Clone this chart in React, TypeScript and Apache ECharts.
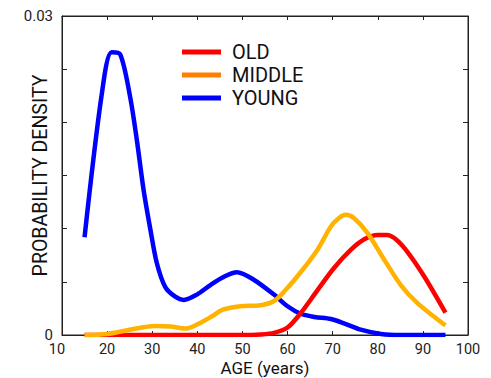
import React, { useEffect, useRef } from "react";
import * as echarts from "echarts";

const X_TICKS = [10, 20, 30, 40, 50, 60, 70, 80, 90, 100];

const SERIES_NAMES = ["OLD", "MIDDLE", "YOUNG"];

const OLD_AGES = [15, 50, 54, 57, 60, 63, 66.6, 70.3, 74, 77, 80, 82, 84, 86.6, 90.3, 95];
const OLD_DENS = [0, 0, 0.00005, 0.0002, 0.0007, 0.0021, 0.0042, 0.0063, 0.008, 0.009, 0.0094, 0.0094, 0.009, 0.0078, 0.0055, 0.0021];

const MIDDLE_AGES = [15, 20, 25, 30.5, 34, 37.5, 40.5, 43, 45.8, 49.6, 54, 57, 59.5, 62.9, 66.6, 69.6, 71.4, 72.9, 74.7, 77.7, 81.4, 85.1, 88.8, 95];
const MIDDLE_DENS = [0, 0.0001, 0.0005, 0.00085, 0.0008, 0.0006, 0.0011, 0.0017, 0.0024, 0.0027, 0.0028, 0.0032, 0.0042, 0.0059, 0.008, 0.0102, 0.011, 0.0113, 0.011, 0.0096, 0.0071, 0.0047, 0.003, 0.0009];

const YOUNG_AGES = [15, 18.8, 21.0, 22.9, 25.1, 26.6, 28.1, 29.6, 31.0, 32.9, 35.1, 37.0, 39.9, 42.9, 46, 48.8, 52.5, 57.0, 60, 62.9, 66, 69.6, 72.5, 76.2, 80.7, 85, 95];
const YOUNG_DENS = [0.0092, 0.0226, 0.0266, 0.0264, 0.0224, 0.0183, 0.0136, 0.0099, 0.0068, 0.0045, 0.0036, 0.0033, 0.0038, 0.0047, 0.0055, 0.0059, 0.0052, 0.0038, 0.0027, 0.002, 0.0017, 0.0015, 0.0011, 0.0005, 0.0001, 0, 0];

const LINE_COLORS = { OLD: "#ff0000", MIDDLE: "#ffb300", YOUNG: "#0000ff" };
const LEGEND_COLORS = { OLD: "#ff0000", MIDDLE: "#ff8000", YOUNG: "#0000ff" };

const FONT = "Roboto, 'Liberation Sans', Arial, sans-serif";

function pairs(xs: number[], ys: number[]) {
  return xs.map((x, i) => [x, ys[i]]);
}

export default function App() {
  const ref = useRef<HTMLDivElement>(null);
  useEffect(() => {
    if (!ref.current) return;
    const chart = echarts.init(ref.current, null, { renderer: "svg" });
    const axisLineStyle = { color: "#222", width: 1 };
    const mk = (name: string, xs: number[], ys: number[]) => ({
      name,
      type: "line",
      data: pairs(xs, ys),
      showSymbol: false,
      symbol: "none",
      smooth: 0.3,
      color: (LINE_COLORS as any)[name],
      lineStyle: { width: 4.5, color: (LINE_COLORS as any)[name] },
    });
    chart.setOption({
      animation: false,
      backgroundColor: "#fff",
      grid: {
        left: 62,
        right: 23,
        top: 16,
        bottom: 43,
        containLabel: false,
        outerBoundsMode: "none",
        show: true,
        borderColor: "#222",
        borderWidth: 1,
        backgroundColor: "transparent",
      },
      legend: {
        orient: "vertical",
        left: 182,
        top: 42,
        padding: 0,
        itemWidth: 39,
        itemHeight: 5,
        itemGap: 3,
        icon: "rect",
        selectedMode: false,
        data: SERIES_NAMES.map((n) => ({ name: n, itemStyle: { color: (LEGEND_COLORS as any)[n] } })),
        textStyle: { fontSize: 20, lineHeight: 18, color: "#111", fontFamily: FONT, padding: [0, 0, 0, 6] },
      },
      xAxis: [
        {
          type: "value",
          min: X_TICKS[0],
          max: X_TICKS[X_TICKS.length - 1],
          interval: 10,
          position: "bottom",
          axisLine: { show: true, onZero: false, lineStyle: axisLineStyle },
          axisTick: { show: true, inside: true, length: 4, lineStyle: axisLineStyle },
          splitLine: { show: false },
          axisLabel: {
            fontSize: 14.5,
            lineHeight: 13,
            color: "#222",
            fontFamily: FONT,
            margin: 7.5,
            formatter: (v: number) => (v === 10 ? "{o|10}" : String(v)),
            rich: { o: { fontSize: 14.5, lineHeight: 13, color: "#222", fontFamily: FONT, padding: [0, 10, 0, 0] } },
          },
          name: "AGE (years)",
          nameLocation: "middle",
          nameGap: 25,
          nameMoveOverlap: false,
          nameTextStyle: { fontSize: 17, lineHeight: 15, color: "#111", fontFamily: FONT },
        },
        {
          type: "value",
          min: 10,
          max: 100,
          interval: 10,
          position: "top",
          axisLine: { show: true, onZero: false, lineStyle: axisLineStyle },
          axisTick: { show: true, inside: true, length: 4, lineStyle: axisLineStyle },
          axisLabel: { show: false },
          splitLine: { show: false },
        },
      ],
      yAxis: [
        {
          type: "value",
          min: 0,
          max: 0.03,
          interval: 0.005,
          position: "left",
          axisLine: { show: true, onZero: false, lineStyle: axisLineStyle },
          axisTick: { show: true, inside: true, length: 5, lineStyle: axisLineStyle },
          splitLine: { show: false },
          axisLabel: {
            fontSize: 15,
            color: "#222",
            fontFamily: FONT,
            margin: 9,
            formatter: (v: number) => (v === 0 ? "0" : Math.abs(v - 0.03) < 1e-9 ? "0.03" : ""),
          },
          name: "PROBABILITY DENSITY",
          nameLocation: "middle",
          nameGap: 12,
          nameMoveOverlap: false,
          nameTextStyle: { fontSize: 19.5, color: "#111", fontFamily: FONT },
        },
        {
          type: "value",
          min: 0,
          max: 0.03,
          interval: 0.005,
          position: "right",
          axisLine: { show: true, onZero: false, lineStyle: axisLineStyle },
          axisTick: { show: true, inside: true, length: 5, lineStyle: axisLineStyle },
          axisLabel: { show: false },
          splitLine: { show: false },
        },
      ],
      series: [
        mk("YOUNG", YOUNG_AGES, YOUNG_DENS),
        mk("OLD", OLD_AGES, OLD_DENS),
        mk("MIDDLE", MIDDLE_AGES, MIDDLE_DENS),
      ],
    });
    return () => chart.dispose();
  }, []);
  return <div ref={ref} style={{ position: "absolute", left: 0, top: 0, width: 491, height: 378 }} />;
}
